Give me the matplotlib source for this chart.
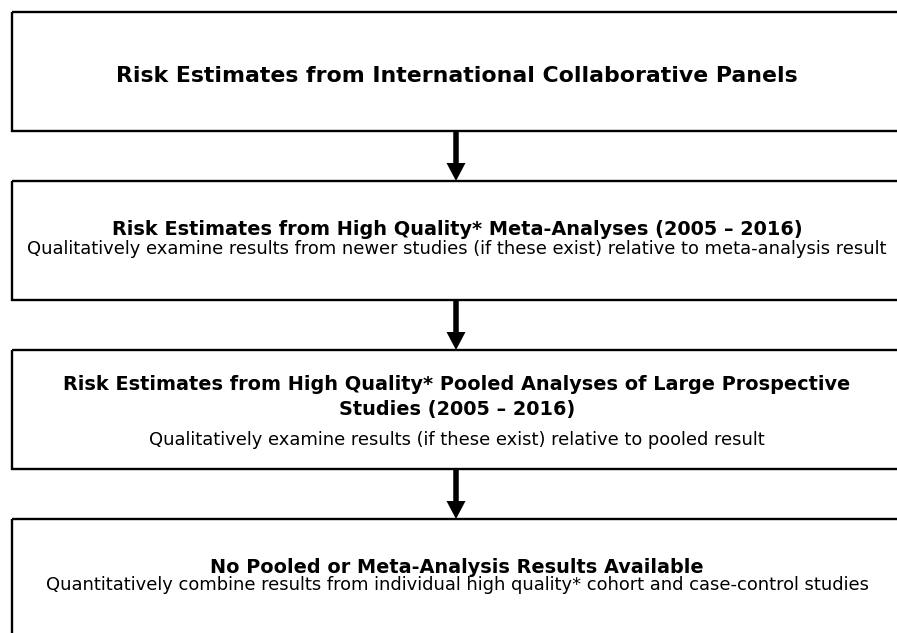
import matplotlib
matplotlib.use("Agg")
import matplotlib.pyplot as plt
from matplotlib.patches import Rectangle, FancyArrow

plt.rcParams['font.family'] = ['DejaVu Sans']

# Flowchart content
box_titles = [
    ["Risk Estimates from International Collaborative Panels"],
    ["Risk Estimates from High Quality* Meta-Analyses (2005 \u2013 2016)"],
    ["Risk Estimates from High Quality* Pooled Analyses of Large Prospective",
     "Studies (2005 \u2013 2016)"],
    ["No Pooled or Meta-Analysis Results Available"],
]
box_notes = [
    None,
    "Qualitatively examine results from newer studies (if these exist) relative to meta-analysis result",
    "Qualitatively examine results (if these exist) relative to pooled result",
    "Quantitatively combine results from individual high quality* cohort and case-control studies",
]

W, H = 897, 633
fig = plt.figure(figsize=(W / 100, H / 100), dpi=100)
ax = fig.add_axes([0, 0, 1, 1])
ax.set_xlim(0, W)
ax.set_ylim(H, 0)
ax.axis('off')

box_left = 11.5
box_right = 960
box_tops = [12, 181, 350, 519]
box_h = 119
cx = 457
arrow_x = 456

title_baselines = [[81.5], [235], [390, 415], [573]]
note_baselines = [None, 253.5, 445, 590]
title_sizes = [15.8, 13.9, 13.9, 13.9]
note_size = 12.9

for i, top in enumerate(box_tops):
    ax.add_patch(Rectangle((box_left, top), box_right - box_left, box_h,
                           fill=False, edgecolor='black', linewidth=1.7))
    for line, yb in zip(box_titles[i], title_baselines[i]):
        ax.text(cx, yb, line, ha='center', va='baseline', fontsize=title_sizes[i],
                fontweight='bold', color='black')
    if box_notes[i]:
        ax.text(cx, note_baselines[i], box_notes[i], ha='center', va='baseline',
                fontsize=note_size, color='black')
    if i < len(box_tops) - 1:
        y0 = top + box_h
        y1 = box_tops[i + 1]
        ax.add_patch(FancyArrow(arrow_x, y0, 0, y1 - y0, width=5.5, head_width=19,
                                head_length=18, length_includes_head=True,
                                color='black', linewidth=0))

fig.savefig('out.png', dpi=100)
